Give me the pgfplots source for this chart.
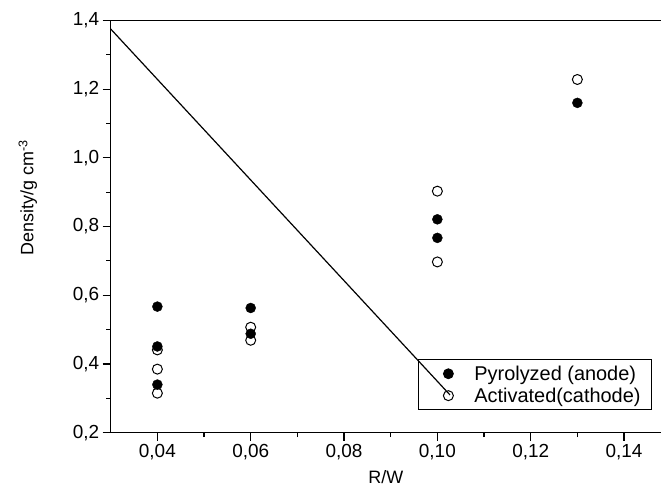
\documentclass[border=0pt]{standalone}
\usepackage{pgfplots}
\pgfplotsset{compat=1.18}
\usepackage{fontspec}
\setmainfont{Liberation Sans}
\begin{document}
\begin{tikzpicture}
\useasboundingbox (-110.7bp,-60.3bp) rectangle (551.3bp,432.7bp);
\begin{axis}[
  at={(0,0)}, anchor=south west,
  scale only axis, width=550.2bp, height=412.3bp,
  xmin=0.03, xmax=0.1479, ymin=0.2, ymax=1.4,
  axis x line*=box, axis y line*=left,
  axis line style={-, line width=1.2bp},
  xtick pos=left, ytick pos=left,
  tick align=outside,
  major tick length=8bp, minor tick length=4.5bp,
  every tick/.style={line width=1.1bp, black},
  xtick={0.04,0.06,0.08,0.10,0.12,0.14},
  ytick={0.2,0.4,0.6,0.8,1.0,1.2,1.4},
  minor x tick num=1, minor y tick num=1,
  /pgf/number format/assume math mode=true,
  xticklabel style={/pgf/number format/.cd, fixed, fixed zerofill, precision=2, use comma},
  yticklabel style={/pgf/number format/.cd, fixed, fixed zerofill, precision=1, use comma},
  tick label style={font=\fontsize{19}{22}\selectfont},
  xlabel={R/W}, ylabel={Density/g cm\textsuperscript{-3}},
  every axis x label/.style={at={(axis description cs:0.5,0)}, anchor=base, yshift=-50.6bp, font=\fontsize{18}{21}\selectfont},
  every axis y label/.style={at={(axis description cs:0,0.5)}, xshift=-77.2bp, yshift=28.7bp, rotate=90, anchor=base, font=\fontsize{18}{21}\selectfont},
  legend style={at={(0.5585,0.055)}, anchor=south west, fill=none, draw=black, line width=0.8bp,
    font=\fontsize{20}{23}\selectfont, inner xsep=9bp, inner ysep=4bp, row sep=2bp},
  legend image code/.code={\path[draw=none, fill=none] (0bp,-1bp) rectangle (45bp,1bp); \draw[mark repeat=2, mark phase=2, #1] plot coordinates {(0bp,0bp) (21bp,0bp) (45bp,0bp)};},
  legend cell align=left,
]
\addplot[only marks, mark=*, mark size=5bp, black] coordinates {
 (0.04,0.567) (0.04,0.451) (0.04,0.340)
 (0.06,0.563) (0.06,0.488)
 (0.10,0.821) (0.10,0.767)
 (0.13,1.160)
};
\addlegendentry{Pyrolyzed (anode)}
\addplot[only marks, mark=o, mark size=5bp, black, mark options={line width=1bp, fill=white}] coordinates {
 (0.04,0.441) (0.04,0.385) (0.04,0.315)
 (0.06,0.507) (0.06,0.469)
 (0.10,0.903) (0.10,0.697)
 (0.13,1.228)
};
\addlegendentry{Activated(cathode)}
\addplot[black, line width=1.2bp, forget plot] coordinates {(0.03,1.375) (0.1027,0.31)};
\end{axis}
\end{tikzpicture}
\end{document}
